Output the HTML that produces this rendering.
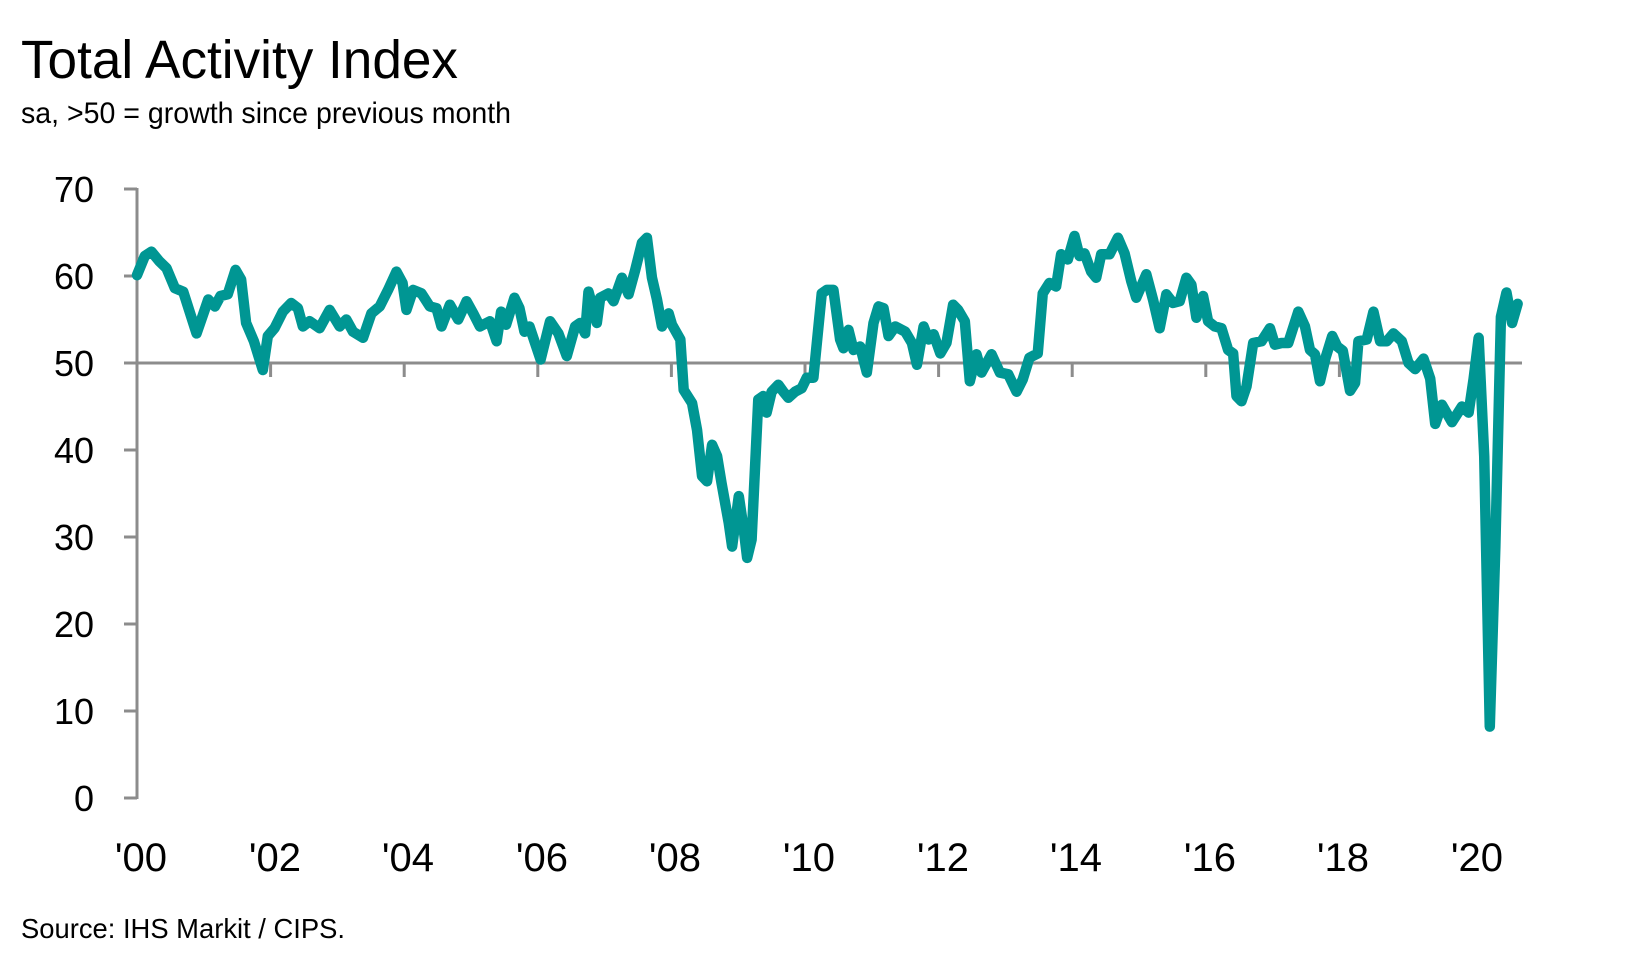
<!DOCTYPE html>
<html>
<head>
<meta charset="utf-8">
<style>
html,body{margin:0;padding:0;background:#fff;}
svg{display:block;}
text{font-family:"Liberation Sans",sans-serif;fill:#000;}
</style>
</head>
<body>
<svg width="1640" height="962" viewBox="0 0 1640 962" xmlns="http://www.w3.org/2000/svg">
<rect x="0" y="0" width="1640" height="962" fill="#fff"/>
<text x="21" y="78" font-size="54" textLength="437" lengthAdjust="spacingAndGlyphs">Total Activity Index</text>
<text x="21" y="123" font-size="30" textLength="490" lengthAdjust="spacingAndGlyphs">sa, &gt;50 = growth since previous month</text>

<g stroke="#8c8c8c" stroke-width="3" fill="none">
  <line x1="137" y1="188" x2="137" y2="799"/>
  <line x1="124" y1="189" x2="137" y2="189"/>
  <line x1="124" y1="276" x2="137" y2="276"/>
  <line x1="124" y1="363" x2="1522" y2="363"/>
  <line x1="124" y1="450" x2="137" y2="450"/>
  <line x1="124" y1="537" x2="137" y2="537"/>
  <line x1="124" y1="624" x2="137" y2="624"/>
  <line x1="124" y1="711" x2="137" y2="711"/>
  <line x1="124" y1="798" x2="137" y2="798"/>
  <line x1="270.6" y1="363" x2="270.6" y2="377"/>
  <line x1="404.2" y1="363" x2="404.2" y2="377"/>
  <line x1="537.8" y1="363" x2="537.8" y2="377"/>
  <line x1="671.4" y1="363" x2="671.4" y2="377"/>
  <line x1="805" y1="363" x2="805" y2="377"/>
  <line x1="938.6" y1="363" x2="938.6" y2="377"/>
  <line x1="1072.2" y1="363" x2="1072.2" y2="377"/>
  <line x1="1205.8" y1="363" x2="1205.8" y2="377"/>
  <line x1="1339.4" y1="363" x2="1339.4" y2="377"/>
  <line x1="1473" y1="363" x2="1473" y2="377"/>
</g>

<g font-size="36" text-anchor="end">
  <text x="94" y="202">70</text>
  <text x="94" y="289">60</text>
  <text x="94" y="376">50</text>
  <text x="94" y="463">40</text>
  <text x="94" y="550">30</text>
  <text x="94" y="637">20</text>
  <text x="94" y="724">10</text>
  <text x="94" y="811">0</text>
</g>

<g font-size="40" text-anchor="middle">
  <text x="141" y="871">'00</text>
  <text x="275" y="871">'02</text>
  <text x="408" y="871">'04</text>
  <text x="542" y="871">'06</text>
  <text x="675" y="871">'08</text>
  <text x="809" y="871">'10</text>
  <text x="943" y="871">'12</text>
  <text x="1076" y="871">'14</text>
  <text x="1210" y="871">'16</text>
  <text x="1343" y="871">'18</text>
  <text x="1477" y="871">'20</text>
</g>

<g transform="matrix(5.567,0,0,-8.7,137,798)">
<polyline vector-effect="non-scaling-stroke" fill="none" stroke="#009693" stroke-width="10.5" stroke-linejoin="round" stroke-linecap="round" points="
0,60.1 1.4,62.3 2.6,62.8 4,61.7 5.3,60.9 6.8,58.6 8.3,58.2 10.7,53.4 12.8,57.3 14,56.5 15,57.7 16.3,57.9 17.7,60.7 18.7,59.6 19.6,54.6 21,52.5 22.6,49.2 23.5,53.1 24.7,54 26.2,55.9 27.7,56.9 28.9,56.3 29.8,54.2 31,54.8 32.8,54 34.6,56.1 36.4,54.2 37.6,55 38.8,53.6 40.6,52.9 42.1,55.7 43.6,56.5 45.1,58.4 46.6,60.5 47.7,59.2 48.4,56.1 49.6,58.4 51.1,58 52.6,56.5 53.8,56.3 54.7,54.2 56.2,56.7 57.7,55 59.2,57.1 60.4,55.7 61.6,54.2 63.4,54.8 64.6,52.5 65.4,55.9 66.3,54.4 67.8,57.5 68.7,56.3 69.6,53.6 70.5,54.2 72.5,50.4 74.2,54.8 75.7,53.4 77.2,50.8 78.7,54.2 79.6,54.6 80.5,53.4 81.1,58.2 82.6,54.6 83.2,57.5 84.7,58 85.6,57.1 87.1,59.8 88.3,57.9 89.5,60.7 90.7,63.8 91.6,64.4 92.5,59.8 93.4,57.3 94.3,54.2 95.5,55.7 96.1,54.4 97.6,52.7 98.2,46.9 99.7,45.4 100.6,42.3 101.5,37 102.4,36.4 103.3,40.6 104.2,39.3 105,36.2 106.3,31.6 106.9,28.9 108.1,34.7 109,30.8 109.6,27.6 110.4,29.7 111.6,45.8 112.5,46.2 113.1,44.3 114,46.7 115.2,47.5 116.1,46.7 117,46 118.2,46.7 119.4,47.1 120.3,48.3 121.5,48.3 123,58 123.9,58.4 125.1,58.4 126.3,52.7 126.9,51.7 127.8,53.8 128.7,51.5 129.9,51.9 131.1,48.9 132.3,54.6 133.2,56.5 134.1,56.3 135,53.1 136.2,54.2 138,53.6 139.2,52.3 140.1,49.8 141.3,54.2 142.2,52.7 143.1,53.3 144.3,51.1 145.4,52.3 146.6,56.7 147.5,56.1 148.7,54.8 149.6,47.9 150.8,51 151.7,48.9 153.5,51 155,48.9 156.5,48.7 158,46.7 159.1,48.1 160.3,50.6 161.8,51.1 162.7,58 163.9,59.2 165.1,58.8 166,62.5 167.2,61.9 168.4,64.6 169.3,62.3 170.2,62.6 171.4,60.5 172.3,59.8 173.2,62.5 174.7,62.5 176.2,64.4 177.4,62.6 178.6,59.4 179.5,57.5 181.3,60.2 182.5,57.3 183.7,54 184.9,57.9 186.1,56.9 187.3,57.1 188.5,59.8 189.4,59 190.3,55.2 191.5,57.7 192.4,54.8 193.6,54.2 194.8,54 196,51.5 196.9,51.1 197.5,46.2 198.4,45.6 199.3,47.3 200.5,52.3 202,52.5 203.5,54 204.4,52.1 205.6,52.3 206.8,52.3 208.6,55.9 209.8,54.2 210.7,51.5 211.6,51 212.5,47.9 213.5,50.6 214.7,53.1 215.6,51.9 216.6,51.4 217.9,46.8 218.8,47.7 219.4,52.5 220.9,52.7 222.1,55.9 223.3,52.5 224.5,52.5 225.7,53.4 227.2,52.5 228.4,50 229.6,49.3 231.1,50.5 232.3,48.2 233.2,43 234.4,45.2 236.2,43.2 238,45 239.2,44.3 240.1,48.2 241,52.9 242,39.3 243,8.2 244,28.9 245,55.3 246,58.1 247,54.6 248,56.8"/>
</g>

<text x="21" y="938" font-size="28" textLength="324" lengthAdjust="spacingAndGlyphs">Source: IHS Markit / CIPS.</text>
</svg>
</body>
</html>
